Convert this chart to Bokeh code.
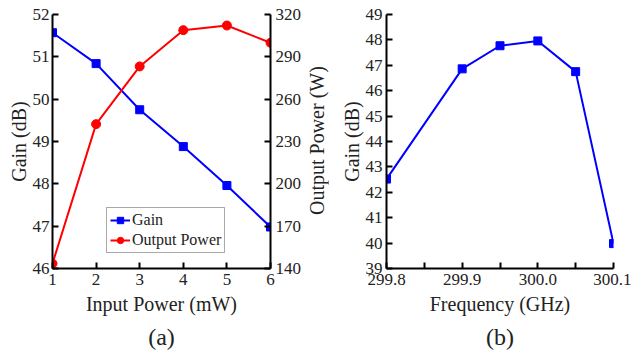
import math
from bokeh.plotting import figure
from bokeh.models import Range1d, LinearAxis, FixedTicker, Legend, LegendItem, Title, NumeralTickFormatter, Div
from bokeh.layouts import row
from bokeh.embed import file_html
from bokeh.resources import INLINE

# ---- data (a) ----
input_power = [1, 2, 3, 4, 5, 6]
gain_a = [51.57, 50.84, 49.75, 48.88, 47.96, 46.98]
output_power = [143.5, 242.3, 283.2, 308.9, 312.2, 300.0]
# ---- data (b) ----
freq = [299.8, 299.9, 299.95, 300.0, 300.05, 300.1]
gain_b = [42.52, 46.86, 47.77, 47.96, 46.75, 39.98]

FONT = "Liberation Serif"
TXT = "#222222"
TICK_FS = "17px"
LAB_FS = "20px"


def style_axis(ax):
    ax.axis_line_width = 2
    ax.axis_line_color = "black"
    ax.major_tick_line_width = 2
    ax.minor_tick_line_width = 2
    ax.major_tick_in = 6
    ax.major_tick_out = 0
    ax.minor_tick_in = 0
    ax.minor_tick_out = 0
    ax.major_label_text_font = FONT
    ax.major_label_text_font_size = TICK_FS
    ax.major_label_text_color = TXT
    ax.axis_label_text_font = FONT
    ax.axis_label_text_font_size = LAB_FS
    ax.axis_label_text_font_style = "normal"
    ax.axis_label_text_color = TXT


# ---------------- figure (a) ----------------
pa = figure(width=306, height=356, output_backend="svg", toolbar_location=None,
            x_range=Range1d(1, 6), y_range=Range1d(46, 52),
            min_border_left=52, min_border_right=36, min_border_top=14, min_border_bottom=88)
pa.outline_line_color = None
pa.xgrid.visible = False
pa.ygrid.visible = False
pa.extra_y_ranges = {"pw": Range1d(140, 320)}

r1l = pa.line(input_power, gain_a, line_color="blue", line_width=2)
r1s = pa.scatter(input_power, gain_a, marker="square", size=8, color="blue")
r2l = pa.line(input_power, output_power, line_color="red", line_width=2, y_range_name="pw")
r2s = pa.scatter(input_power, output_power, marker="circle", size=9, color="red", y_range_name="pw")

pa.xaxis.ticker = FixedTicker(ticks=[1, 2, 3, 4, 5, 6])
pa.yaxis.ticker = FixedTicker(ticks=[46, 47, 48, 49, 50, 51, 52])
pa.xaxis.axis_label = "Input Power (mW)"
pa.yaxis.axis_label = "Gain (dB)"
right_ax = LinearAxis(y_range_name="pw",
                      ticker=FixedTicker(ticks=[140, 170, 200, 230, 260, 290, 320]))
pa.add_layout(right_ax, "right")
for ax in [pa.xaxis[0], pa.yaxis[0], right_ax]:
    style_axis(ax)
pa.xaxis.major_label_standoff = 5
pa.xaxis.axis_label_standoff = 5
pa.yaxis[0].major_label_standoff = 3
pa.yaxis[0].axis_label_standoff = 0
right_ax.major_label_standoff = 5

leg = Legend(items=[LegendItem(label="Gain", renderers=[r1l, r1s]),
                    LegendItem(label="Output Power", renderers=[r2l, r2s])],
             location=(54, 15))
leg.label_text_font = FONT
leg.label_text_font_size = "16px"
leg.label_text_color = TXT
leg.glyph_width = 20
leg.glyph_height = 16
leg.label_height = 16
leg.label_standoff = 2
leg.spacing = 2
leg.padding = 3
leg.margin = 0
leg.border_line_color = "#555555"
leg.border_line_width = 1
leg.background_fill_alpha = 1
pa.add_layout(leg, "center")

pa.add_layout(Title(text="(a)", align="center", text_font=FONT, text_font_size="24px",
                    text_font_style="normal", text_color=TXT, standoff=8), "below")

# right-hand axis title of (a), reading bottom-to-top
right_title = Div(text="Output Power (W)", width=22, height=282,
                  styles={"writing-mode": "vertical-rl", "transform": "rotate(180deg)",
                          "font-family": FONT, "font-size": LAB_FS, "color": TXT,
                          "text-align": "center", "line-height": "22px",
                          "white-space": "nowrap", "margin": "0", "padding": "0"})

# ---------------- figure (b) ----------------
pb = figure(width=303, height=356, output_backend="svg", toolbar_location=None,
            x_range=Range1d(299.8, 300.1), y_range=Range1d(39, 49),
            min_border_left=58, min_border_right=18, min_border_top=14, min_border_bottom=88)
pb.outline_line_color = None
pb.xgrid.visible = False
pb.ygrid.visible = False
pb.line(freq, gain_b, line_color="blue", line_width=2)
pb.scatter(freq, gain_b, marker="square", size=8, color="blue")
pb.xaxis.ticker = FixedTicker(ticks=[299.8, 299.9, 300.0, 300.1],
                              minor_ticks=[299.85, 299.95, 300.05])
pb.yaxis.ticker = FixedTicker(ticks=list(range(39, 50)))
pb.xaxis.axis_label = "Frequency (GHz)"
pb.yaxis.axis_label = "Gain (dB)"
pb.xaxis.formatter = NumeralTickFormatter(format="0.0")
for ax in [pb.xaxis[0], pb.yaxis[0]]:
    style_axis(ax)
pb.xaxis[0].minor_tick_in = 6
pb.xaxis.major_label_standoff = 5
pb.xaxis.axis_label_standoff = 5
pb.yaxis.major_label_standoff = 4
pb.yaxis.axis_label_standoff = 0
pb.add_layout(Title(text="(b)", align="center", text_font=FONT, text_font_size="24px",
                    text_font_style="normal", text_color=TXT, standoff=8, offset=7), "below")

layout = row(pa, right_title, pb)
open("out.html", "w").write(file_html(layout, INLINE))
